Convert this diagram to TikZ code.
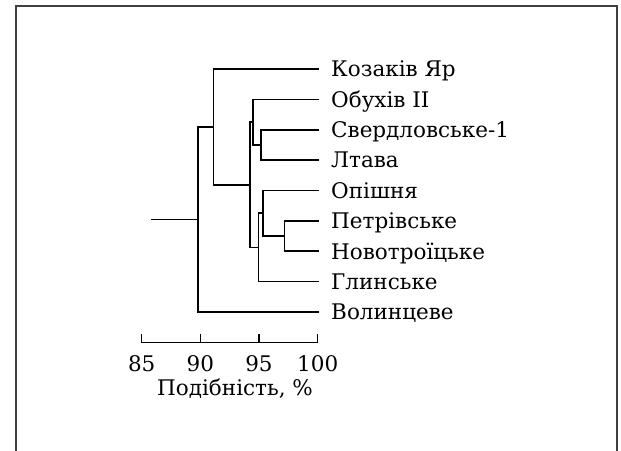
\documentclass[tikz,border=0pt]{standalone}
\usepackage{fontspec}
\setmainfont{DejaVu Serif}
\begin{document}
\begin{tikzpicture}[x=1pt,y=-1pt,
  tree/.style={line width=1.6pt,line cap=rect},
  frameline/.style={line width=2pt,draw=black!75},
  leaf/.style={anchor=base west,inner sep=0pt,font=\fontsize{21.5}{25}\selectfont},
  ticklabel/.style={anchor=base,inner sep=0pt,font=\fontsize{21.5}{25}\selectfont},
  axisline/.style={line width=1.3pt}]
\useasboundingbox (0,0) rectangle (621,450);

% outer frame, open at the bottom
\draw[frameline] (16,452) -- (16,6) -- (617,6) -- (617,452);

% leaf tips (y positions of the branches)
\foreach \n/\y in {kz/69,ob/99.35,sv/129.7,lt/160.05,op/190.4,pe/220.75,no/251.1,gl/281.45,vo/311.8}
  \coordinate (t\n) at (318,\y);

% leaf labels
\node[leaf] (kz) at (331,76.9)  {Козаків Яр};
\node[leaf] (ob) at (331,107.25) {Обухів II};
\node[leaf] (sv) at (331,137.6) {Свердловське-1};
\node[leaf] (lt) at (331,167.95) {Лтава};
\node[leaf] (op) at (331,198.3) {Опішня};
\node[leaf] (pe) at (331,228.65) {Петрівське};
\node[leaf] (no) at (331,259) {Новотроїцьке};
\node[leaf] (gl) at (331,289.35) {Глинське};
\node[leaf] (vo) at (331,319.7) {Волинцеве};

% junctions
\coordinate (jsl)   at (261,144.9);
\coordinate (job)   at (252.7,122.1);
\coordinate (jpn)   at (284.3,235.9);
\coordinate (jop)   at (262.7,213.2);
\coordinate (jgl)   at (258.3,247.3);
\coordinate (jmid)  at (250,184.7);
\coordinate (jkz)   at (213.5,126.85);
\coordinate (jroot) at (197.7,219.3);
\coordinate (stub)  at (151.7,219.3);

% dendrogram
\draw[tree] (tsv) -| (jsl) |- (tlt);
\draw[tree] (tob) -| (job) |- (jsl);
\draw[tree] (tpe) -| (jpn) |- (tno);
\draw[tree] (top) -| (jop) |- (jpn);
\draw[tree] (jop) -| (jgl) |- (tgl);
\draw[tree] (job) -| (jmid) |- (jgl);
\draw[tree] (tkz) -| (jkz) |- (jmid);
\draw[tree] (jkz) -| (jroot) |- (tvo);
\draw[tree] (stub) -- (jroot);

% similarity scale
\foreach \v/\x in {85/141.7,90/200.4,95/259,100/317.7}{
  \coordinate (a\v) at (\x,342.5);
  \coordinate (k\v) at (\x,334);
  \draw[axisline] (a\v) -- (k\v);
  \node[ticklabel] (n\v) at (\x,371.5) {\v};
}
\draw[axisline] (a85) -- (a100);
\node[ticklabel] (axtitle) at (235,395.5) {Подібність, \%};
\end{tikzpicture}
\end{document}
